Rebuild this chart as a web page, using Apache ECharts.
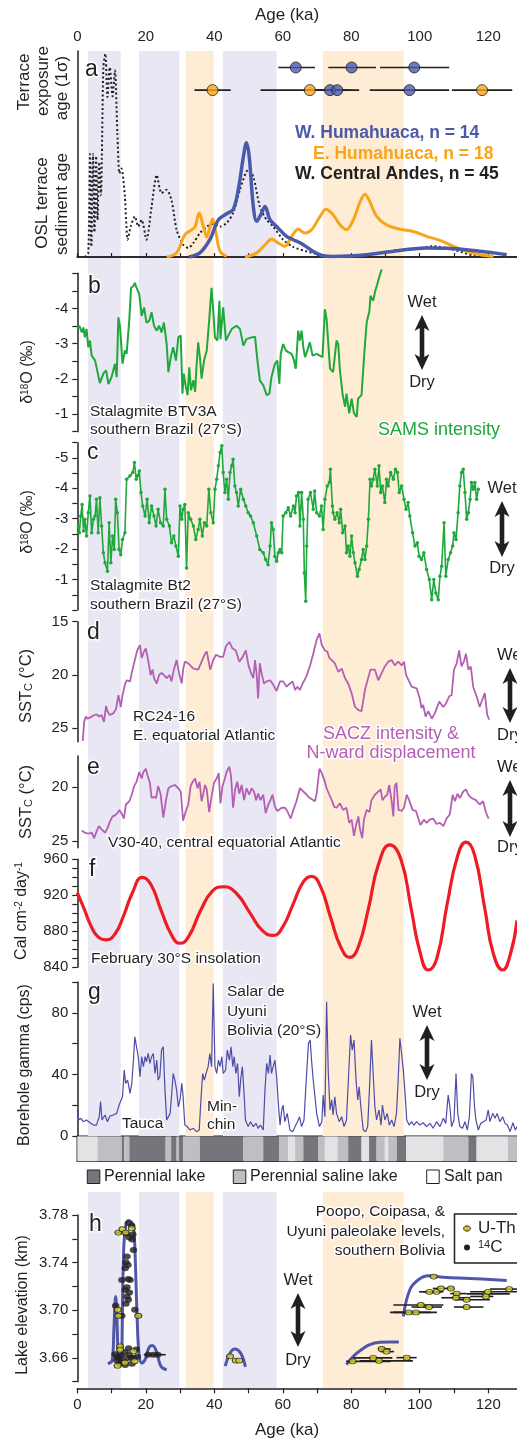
<!DOCTYPE html>
<html><head><meta charset="utf-8">
<script src="https://cdn.jsdelivr.net/npm/echarts@6/dist/echarts.min.js"></script>
<style>html,body{margin:0;padding:0;background:#fff}#c{width:517px;height:1439px}</style>
</head><body><div id="c"></div>
<script>
// ---------------- DATA ----------------
const ageLabels = [0, 20, 40, 60, 80, 100, 120];
const ageTicks = [0, 10, 20, 30, 40, 50, 60, 70, 80, 90, 100, 110, 120];
// shaded intervals [start ka, end ka, type 0=lavender, 1=orange]
const bands = [[3.1, 12.7, 0], [18.0, 29.8, 0], [31.6, 39.8, 1], [42.5, 58.2, 0], [71.7, 95.3, 1]];

// panel a: terrace exposure ages [age, lo, hi, row]
const expoBlue = [[63.8, 58.7, 69.4, 92], [80.1, 73.3, 87.2, 92], [98.4, 88.4, 108.6, 92], [73.8, 66, 80, 81], [75.9, 70, 82.3, 81], [97.0, 85.4, 108.6, 81]];
const expoOrange = [[39.5, 34.2, 44.8, 81], [67.9, 53.5, 78, 81], [118.2, 109.4, 127, 81]];
// OSL KDE curves (arbitrary density units)
const oslWHumahuaca = [[32.6,0],[35.8,2],[38.7,8.4],[41.2,18],[43.6,21],[45.5,23],[47,32.6],[48.5,48.7],[49.4,55.5],[50.2,48.7],[51.4,24.5],[52.4,17.3],[53.8,21.3],[54.8,24.5],[56.3,18],[58.2,14.8],[61.1,10],[63.1,8.4],[66,6],[68.9,2.7],[71.8,0.6],[74.7,0.3],[84.5,1.1],[94.2,3.2],[102,4.4],[107.8,4.2],[115.6,3.2],[121.5,2],[125.4,1.1]];
const oslEHumahuaca = [[26.1,0],[29,2],[31.4,10.8],[33.4,13.2],[34.4,14.8],[35.6,21.3],[36.8,14.8],[37.8,9.7],[38.5,13.2],[39.5,18.4],[40.5,11.6],[41.7,2.7],[43.6,0.3],null,[49,0],[52.4,2],[55.3,6.8],[56.7,8.7],[58.7,6.8],[60.6,5.2],[62.6,10],[64.5,13.5],[66.5,11.6],[68.4,13.2],[70.9,19.7],[72.6,23.2],[74.7,20.5],[76.7,15.6],[78.6,13.2],[80.6,18],[82.5,26.5],[84,30.5],[85.4,26.9],[87.4,19.7],[90.3,15.6],[94.2,13.5],[98.1,12.4],[102,10],[105.9,8.1],[109.8,5.2],[113.7,2.7],[117.6,1.1],[121.5,0.3]];
const oslWCentralAndes = [[2.2,0],[3.2,2],[3.7,50],[4.1,5],[4.6,50],[5.0,12],[5.5,49],[5.9,18],[6.4,46],[6.9,30],[7.6,92],[8.2,98.7],[8.8,77.7],[9.5,92],[10.3,78],[11,90.6],[11.7,60],[12.3,40.6],[12.9,43],[13.9,29.4],[14.7,8.4],[15.6,14.8],[16.8,19.7],[17.8,14.8],[18.8,18],[20.2,8.4],[21.7,24.5],[23.2,39.8],[24.6,31],[26.1,32.6],[27.5,27.7],[29,13.2],[30.9,6],[32.4,4.4],[33.9,6.8],[35.8,11.6],[37.8,14.8],[39.7,16.1],[41.7,14.8],[43.6,16.5],[45.5,21.3],[47.5,32.6],[49.9,42.3],[51.4,39],[53.3,24.5],[55.3,18],[57.2,14.8],[60.1,8.4],[63.1,4.8],[67,2.7],[70.9,1.1],[74.7,0.3],[84.5,1.1],[94.2,3.5],[100,4.4],[104,5.2],[107.8,4.4],[111.7,2.7],[115.6,0.6],[118.5,0]];

// panel b: stalagmite BTV3A d18O
const d18O_BTV3A = [[0,-3.42],[0.6,-3.51],[1.3,-3.32],[1.8,-3.46],[2.2,-3.18],[2.7,-3.42],[3.2,-2.9],[3.7,-3.09],[4.2,-2.66],[5.2,-2.52],[6.6,-1.88],[7.6,-2.15],[8.4,-2.24],[9.1,-1.85],[10,-2.05],[11,-2.43],[11.5,-2.05],[12,-3.75],[12.5,-3.46],[13.2,-2.43],[13.9,-2.81],[14.4,-2.71],[15.2,-3.7],[15.7,-4.59],[16.4,-4.64],[16.8,-4.73],[17.3,-4.59],[18.1,-4.4],[18.8,-3.79],[19.5,-4.03],[20.2,-3.6],[21,-3.65],[21.7,-3.89],[22.4,-3.51],[23.2,-3.37],[23.9,-3.51],[24.6,-3.32],[25.3,-3.6],[26.1,-2.99],[26.6,-2.19],[27.3,-2.62],[28,-2.9],[28.8,-2.52],[29.5,-3.18],[30.2,-3.23],[30.7,-1.58],[31.1,-2.15],[31.7,-1.77],[32.2,-1.54],[32.7,-2.33],[33.2,-1.68],[33.9,-1.96],[34.4,-1.63],[34.8,-2.33],[35.3,-3.04],[35.8,-2.62],[36.3,-2.01],[37,-2.52],[37.8,-2.81],[38.5,-3.65],[39.2,-4.59],[39.7,-3.93],[40.2,-3.18],[40.9,-3.09],[41.5,-4.22],[41.8,-3.13],[42.6,-4.03],[43.4,-3.09],[44.1,-3.23],[45.1,-3.42],[46.5,-3.51],[47.5,-3.42],[48.5,-2.95],[49.4,-3.13],[50.9,-3.18],[51.9,-3.2],[52.6,-2.52],[53.3,-1.96],[54.3,-1.82],[55.3,-1.54],[56.1,-1.58],[56.7,-2.05],[57.7,-2.43],[58.4,-2.52],[59,-1.86],[59.4,-2.71],[60.1,-2.99],[60.9,-2.81],[61.6,-2.76],[62.6,-2.71],[63.3,-2.52],[63.8,-2.29],[64.5,-3.37],[65,-3.09],[65.5,-3.37],[66,-2.9],[66.5,-2.62],[67.2,-2.81],[67.9,-3.04],[68.7,-2.66],[69.9,-2.71],[71.6,-2.62],[72.3,-3.98],[72.8,-3.7],[73.3,-2.99],[73.8,-2.29],[74.7,-2.19],[75.7,-3.09],[76.2,-2.99],[76.7,-2.24],[77.5,-1.54],[78.2,-1.21],[78.6,-1.58],[79.4,-1.02],[80.1,-1.44],[80.8,-1.02],[81.6,-0.92],[82,-1.44],[83,-1.54],[83.8,-2.71],[84.5,-3.6],[85.3,-3.93],[85.6,-4.36],[86.4,-4.22],[87,-4.5],[87.6,-4.69],[88.4,-4.97],[88.9,-5.11]];

// panel c: stalagmite Bt2 d18O
const d18O_Bt2 = [[0.3,-2.76],[0.6,-2.54],[1,-3.09],[1.4,-3.47],[1.8,-2.6],[2.2,-2.98],[2.7,-2.43],[3.2,-3.2],[3.7,-3.75],[4.2,-2.54],[4.7,-2.98],[5.2,-3.09],[5.6,-3.64],[6.1,-2.54],[6.6,-3.69],[7.1,-2.76],[7.6,-1.88],[8.1,-1.55],[8.8,-1.27],[9.3,-2.87],[9.8,-1.55],[10.3,-2.43],[10.8,-1.99],[11.2,-3.64],[11.7,-3.2],[12.2,-1.99],[12.7,-1.82],[13.2,-2.32],[13.9,-2.54],[14.4,-4.3],[15.4,-4.41],[16.2,-4.52],[16.7,-4.85],[17.2,-4.3],[17.6,-4.41],[18.1,-4.57],[18.6,-3.86],[19.1,-3.42],[19.8,-3.09],[20.4,-3.64],[21,-2.87],[21.7,-3.42],[22.4,-3.09],[23,-2.76],[23.6,-3.31],[24.3,-2.87],[25.1,-2.76],[25.6,-3.97],[26.1,-2.98],[26.9,-2.76],[27.5,-2.21],[28.2,-2.43],[28.8,-2.1],[29.5,-1.77],[30,-3.42],[30.5,-2.98],[30.9,-3.31],[31.4,-3.47],[31.9,-1.38],[32.4,-3.2],[33.1,-2.98],[33.9,-2.76],[34.6,-2.32],[35.3,-2.65],[35.8,-2.98],[36.5,-2.43],[37.1,-2.87],[37.8,-2.76],[38.4,-3.97],[39,-3.2],[39.7,-2.87],[40.2,-3.97],[40.7,-4.3],[41.2,-4.74],[41.7,-5.18],[42.2,-5.4],[42.6,-4.52],[43.1,-3.86],[43.6,-4.3],[44.1,-3.64],[44.6,-4.52],[45.1,-4.74],[45.5,-4.96],[46,-4.08],[46.5,-3.86],[47,-3.42],[47.7,-3.97],[48.5,-3.64],[49.2,-3.42],[49.9,-3.2],[50.6,-3.09],[51.4,-2.87],[52.4,-2.43],[53.3,-1.99],[54.3,-1.88],[55,-1.66],[55.7,-1.49],[56.3,-2.1],[56.7,-2.87],[57.2,-2.65],[57.7,-1.77],[58.2,-1.6],[58.7,-1.88],[59.2,-1.99],[59.7,-1.88],[60.1,-3.09],[60.9,-3.2],[61.6,-3.36],[62.3,-3.09],[63.1,-3.42],[63.6,-3.2],[64,-3.75],[64.6,-3.86],[65,-2.76],[65.5,-3.86],[66,-2.98],[66.3,-1.22],[66.7,-0.29],[67,-2.1],[67.4,-3.64],[68.1,-3.86],[68.9,-3.31],[69.3,-3.91],[69.9,-3.2],[70.7,-3.09],[71.3,-3.42],[71.8,-2.65],[72.3,-3.64],[73,-4.08],[73.6,-4.19],[73.9,-4.63],[74.5,-3.42],[74.7,-3.2],[75.2,-2.98],[75.9,-3.2],[76.5,-2.87],[76.9,-3.31],[77.5,-2.54],[78.2,-2.76],[78.6,-1.88],[79.1,-2.1],[79.6,-1.77],[80.1,-2.43],[80.6,-1.88],[81.1,-1.55],[81.8,-1.11],[82.3,-1.33],[83,-1.66],[83.5,-1.99],[84,-1.66],[84.5,-2.1],[85,-2.98],[85.5,-4.3],[85.9,-4.08],[86.4,-4.3],[86.9,-4.63],[87.6,-4.08],[88.1,-4.74],[88.6,-3.86],[89.1,-4.08],[89.8,-3.53],[90.3,-4.3],[90.8,-4.08],[91.5,-4.52],[92.3,-4.3],[92.9,-4.63],[93.5,-4.52],[94,-3.86],[94.7,-4.08],[95.4,-3.64],[96,-3.31],[96.6,-3.53],[97.1,-3.09],[97.9,-2.54],[98.6,-2.1],[99.3,-2.21],[99.8,-1.77],[100.5,-1.66],[101.2,-1.88],[102,-1.33],[102.8,-1.0],[103.5,-0.34],[104.1,-1.0],[104.7,-0.56],[105.4,-0.34],[105.9,-1.11],[106.4,-1.44],[107.1,-2.87],[107.6,-1.11],[108.3,-1.66],[109,-1.88],[109.6,-2.1],[110,-2.54],[110.6,-2.32],[111.2,-3.2],[111.7,-4.08],[112.2,-4.52],[112.7,-4.63],[113.2,-3.86],[113.7,-2.98],[114.2,-3.2],[114.7,-3.64],[115.1,-4.19],[115.6,-3.97],[116.1,-4.19],[116.6,-3.64],[117.1,-3.97]];

// panel d: RC24-16 SST
const sstRC2416 = [[1.6,26.2],[2,24.4],[2.5,23.9],[2.9,24.1],[3.7,24.0],[4.7,23.8],[5.6,23.7],[6.4,23.9],[7.1,23.75],[7.8,24.4],[8.4,22.9],[8.8,23.4],[9.5,23.75],[10.5,23.6],[11.3,23.2],[12,21.9],[12.7,23.0],[13.2,21.9],[13.9,20.9],[14.4,20.5],[15.4,20.6],[15.9,19.8],[16.8,18.6],[17.5,17.7],[18.3,17.2],[18.8,18.4],[19.5,17.8],[20,17.5],[20.7,18.6],[21.4,20.0],[22,19.5],[22.4,20.3],[23.2,20.8],[23.9,20.0],[24.6,19.8],[25.3,20.0],[26.1,20.3],[26.9,20.0],[27.5,20.6],[28.2,19.5],[29,18.6],[29.7,19.8],[30.5,20.8],[30.9,19.5],[31.4,18.75],[32.4,18.9],[33.9,19.4],[35.3,19.5],[36.3,18.75],[37.3,18.0],[37.8,17.8],[38.8,19.5],[39.7,18.6],[40.5,18.1],[41.7,18.3],[42.6,18.3],[43.4,17.3],[44.4,16.9],[45.3,17.5],[46.3,17.7],[47.3,18.75],[48.3,18.3],[49.2,17.7],[50,19.1],[50.6,19.7],[51.4,20.3],[51.9,18.6],[52.4,20.0],[52.8,22.2],[53.3,18.9],[53.8,19.8],[54.5,20.8],[55.3,20.6],[56.3,20.5],[57.2,20.9],[58.2,21.5],[59.2,20.6],[60.1,20.6],[61.1,21.1],[62.1,20.8],[62.9,20.6],[63.6,21.4],[64.3,21.1],[65,21.4],[65.8,20.8],[66.8,20.2],[67.9,19.2],[68.9,18.0],[69.9,16.7],[70.7,16.1],[71.4,17.2],[72.3,17.7],[73,17.8],[73.6,18.4],[74.3,18.6],[75.2,18.9],[76.2,19.7],[77.2,19.4],[78.2,20.3],[79.1,20.8],[80.1,21.7],[81.1,23.0],[82.1,23.3],[83,23.4],[84,21.4],[85,20.2],[85.6,19.5],[86.9,19.5],[87.9,20.5],[88.9,19.8],[89.8,19.2],[90.8,18.75],[91.8,18.6],[92.7,19.1],[93.7,18.75],[94.7,19.1],[95.4,18.75],[96,20.0],[96.9,20.6],[97.6,21.1],[99.1,21.25],[100,22.2],[100.5,23.1],[101,22.8],[101.7,23.9],[102.5,23.4],[103.5,24.1],[104.4,23.6],[105.7,22.5],[106.9,23.0],[107.6,22.7],[108.6,22.0],[109.3,21.9],[110,19.5],[110.8,18.9],[111.5,17.7],[112.2,19.2],[112.9,18.75],[113.5,18.0],[114.2,19.5],[114.9,19.2],[115.6,21.1],[116.6,22.0],[117.5,23.0],[118.3,22.3],[119,21.7],[119.7,23.75],[120.3,24.2]];

// panel e: V30-40 SST
const sstV3040 = [[1.3,24.0],[2.2,24.2],[3.2,24.3],[4.2,24.2],[4.9,24.7],[5.6,24.1],[6.3,23.6],[7.1,23.9],[8.1,24.2],[8.8,23.8],[9.5,23.2],[10.3,22.7],[11,22.6],[11.7,22.4],[12.3,22.1],[12.9,22.4],[13.6,22.9],[14.2,21.6],[15.2,21.3],[15.9,20.7],[16.6,19.9],[17.3,19.5],[18.1,18.6],[18.8,19.2],[19.3,18.6],[20,18.3],[20.5,18.9],[21.2,19.6],[21.7,21.0],[22.4,20.9],[23,21.0],[23.6,19.9],[24.3,20.6],[25.1,22.8],[25.9,21.2],[26.6,20.1],[27.5,19.9],[28.5,19.8],[29.5,20.1],[30.2,20.4],[30.9,23.1],[31.7,22.2],[32.4,21.6],[33.1,19.9],[33.7,19.5],[34.4,19.2],[35.1,20.1],[35.7,19.5],[36.3,21.3],[36.8,20.6],[37.3,19.8],[37.8,20.2],[38.5,22.3],[39.2,20.9],[39.9,19.6],[40.7,19.2],[41.3,18.7],[41.8,21.5],[42.4,19.9],[43.1,19.2],[43.6,18.6],[44.4,18.1],[44.9,19.0],[45.5,21.9],[46.1,20.2],[46.7,19.5],[47.3,20.6],[48,19.8],[48.7,21.2],[49.4,20.1],[50.2,20.7],[50.9,20.1],[51.6,20.4],[52.2,21.2],[52.8,20.6],[53.5,21.2],[54.3,20.7],[55,22.4],[55.8,21.6],[56.4,21.2],[57,20.7],[57.7,21.8],[58.4,22.2],[59.7,21.9],[60.6,21.9],[61.3,22.2],[62.3,22.9],[63.1,22.1],[64,21.3],[65,20.1],[66,20.4],[67,20.7],[67.9,21.0],[69.4,21.3],[69.9,20.6],[70.7,18.3],[71.4,18.7],[72.1,19.3],[72.8,20.1],[73.6,20.7],[74.3,21.2],[75,21.8],[75.7,21.9],[76.7,21.5],[77.6,22.1],[78.6,21.9],[79.4,23.3],[80.1,23.0],[80.8,24.5],[81.4,23.5],[82.1,22.7],[82.5,23.8],[83.2,24.7],[83.7,23.0],[84.5,22.1],[85.3,22.3],[85.9,21.2],[86.9,20.7],[87.9,20.4],[88.6,20.2],[89.1,21.2],[89.8,20.9],[90.5,20.7],[91.1,19.8],[91.8,21.3],[92.3,22.7],[92.7,19.9],[93.2,19.6],[93.8,22.1],[94.7,22.2],[95.4,21.9],[96.2,20.7],[96.9,21.2],[97.9,22.1],[98.9,22.2],[99.6,22.9],[100.2,23.5],[101.2,23.0],[102,23.3],[102.9,23.0],[103.9,22.9],[104.9,23.4],[105.9,23.3],[106.9,23.6],[107.8,22.9],[108.8,22.5],[109.6,20.7],[110.3,21.3],[111,20.6],[111.7,21.0],[112.7,20.4],[113.5,20.2],[114.2,20.7],[115.1,21.0],[116.4,21.2],[117.5,21.6],[118.5,21.3],[119.3,22.3],[120.1,22.9]];

// panel f: February 30S insolation
const insolFeb30S = [[0,923],[2,905],[4,886],[6,874],[8.4,870.5],[11,877],[13.5,897],[16,922],[19,940],[21.5,932],[24.5,903],[27.5,876],[30,866.7],[32.5,874],[36,903],[39.5,925],[42.8,929.5],[46.5,922],[50.5,900],[54,881],[57.2,875.4],[60,885],[63,910],[66,935],[68.4,941],[71,930],[74,895],[77,862],[79.6,851],[82,862],[85,905],[88,955],[91.3,976],[94.5,960],[97.5,905],[100,858],[102.5,837],[105,850],[108,910],[111,963],[113.5,979],[116,965],[119,905],[121.5,855],[124.2,837],[126.5,855],[128.4,892]];

// panel g: Salar de Uyuni borehole gamma
const gammaUyuni = [[0,16.9],[0.4,10.4],[1,11.5],[1.8,9.3],[2.7,10.4],[3.7,8.6],[4.7,7.1],[5.6,7.1],[6.4,12.5],[6.8,22.3],[7.2,10.4],[8.1,13.6],[8.8,9.3],[9.5,13.0],[10.5,13.6],[11.5,14.7],[12.2,20.1],[12.7,19.0],[13.2,25.5],[13.7,42.8],[14.1,34.2],[14.7,36.3],[15.4,27.7],[15.9,34.2],[16.4,49.3],[16.8,64.4],[17.3,57.9],[17.8,51.5],[18.3,38.5],[18.8,51.5],[19.3,45.0],[19.8,51.5],[20.2,48.2],[20.7,53.6],[21.2,47.1],[21.7,51.5],[22.2,53.6],[22.7,40.6],[23.2,49.3],[23.6,36.3],[24.1,38.5],[24.6,55.8],[25.1,57.9],[25.6,29.8],[26.1,10.4],[26.6,9.3],[27.1,14.7],[27.5,25.5],[28,40.6],[28.5,36.3],[29,29.8],[29.5,19.0],[30,23.4],[30.5,34.2],[30.9,25.5],[31.4,7.1],[32.1,6.1],[32.9,3.9],[33.9,5.0],[34.8,2.8],[35.6,3.9],[36.1,23.4],[36.6,40.6],[37.1,36.3],[37.6,40.6],[38.2,45.0],[38.7,53.6],[39.2,45.0],[39.7,99],[40.2,45.0],[40.7,40.6],[41.2,49.3],[41.7,45.0],[42.2,51.5],[42.6,40.6],[43.3,42.8],[43.8,55.8],[44.4,49.3],[44.9,57.9],[45.4,45.0],[45.8,51.5],[46.3,40.6],[46.8,47.1],[47.3,25.5],[47.7,36.3],[48.2,45.0],[48.7,27.7],[49.1,10.4],[49.9,6.1],[50.6,9.3],[51.4,6.1],[52.2,8.2],[52.8,5.0],[53.5,7.1],[54.3,3.9],[54.8,29.8],[55.3,47.1],[55.8,40.6],[56.3,52.5],[56.7,40.6],[57.2,45.0],[57.7,49.3],[58.2,38.5],[58.7,21.2],[59.2,7.1],[59.7,16.9],[60.1,20.1],[60.6,9.3],[61.3,14.7],[62.1,3.9],[62.9,2.8],[63.6,6.1],[64.3,9.3],[64.9,12.5],[65.5,6.1],[66.2,10.4],[66.8,34.2],[67.5,60.1],[68,62.3],[68.4,49.3],[68.9,36.3],[69.4,25.5],[69.9,14.7],[70.7,6.1],[71.4,9.3],[71.8,26.6],[72.3,12.5],[72.8,87.1],[73.3,40.6],[73.8,16.9],[74.3,23.4],[74.7,13.6],[75.2,25.5],[75.7,14.7],[76.5,9.3],[77.2,12.5],[77.9,6.1],[78.6,10.4],[79.3,42.8],[79.8,65.5],[80.3,55.8],[80.8,62.3],[81.4,36.3],[81.9,23.4],[82.3,32.0],[82.8,19.0],[83.5,3.9],[84.2,2.8],[84.8,6.1],[85.3,29.8],[85.9,62.3],[86.4,40.6],[86.9,19.0],[87.4,10.4],[88.1,16.9],[88.7,7.1],[89.1,20.1],[89.8,10.4],[90.5,14.7],[91.1,7.1],[91.8,10.4],[92.5,6.1],[93.2,14.7],[93.7,36.3],[94.2,63.4],[94.7,53.6],[95.2,42.8],[95.7,27.7],[96.2,10.4],[96.9,7.1],[97.6,9.3],[98.3,7.1],[99.1,9.3],[100,7.1],[101,8.6],[102,6.1],[103,8.2],[103.9,5.0],[104.9,9.3],[105.9,6.1],[106.9,11.5],[107.6,8.2],[108.3,26.6],[108.8,19.0],[109.3,6.1],[110,10.4],[110.6,40.6],[111.1,14.7],[111.7,6.1],[112.5,5.0],[113.2,9.3],[113.9,3.9],[114.5,12.5],[115.1,40.6],[115.5,38.5],[116,19.0],[116.4,10.4],[117.1,3.9],[117.8,8.2],[118.6,9.3],[119.4,10.4],[120,16.9],[120.5,9.3],[121.3,14.7],[122,11.5],[122.6,14.7],[123.4,9.3],[124.2,12.5],[124.9,8.2],[125.6,7.1],[126.4,2.8],[127.2,8.6],[127.9,3.9],[128.4,6.1]];

// lithology strip [start, end, type 0=perennial lake,1=perennial saline lake,2=salt pan]
const lithology = [[0,5.9,2],[5.9,13,1],[13,13.7,0],[13.7,15.2,1],[15.2,25.8,0],[25.8,27.4,1],[27.4,29,0],[29,29.7,1],[29.7,30.9,0],[30.9,35.8,1],[35.8,48.5,0],[48.5,54.3,1],[54.3,58.9,0],[58.9,61.6,1],[61.6,63.6,2],[63.6,66,1],[66,70.4,0],[70.4,72.3,1],[72.3,76,2],[76,79.1,1],[79.1,83,0],[83,85.2,2],[85.2,87.4,0],[87.4,89.8,1],[89.8,90.8,2],[90.8,93.3,1],[93.3,96,0],[96,106.9,2],[106.9,114.2,1],[114.2,116.6,0],[116.6,125.7,2],[125.7,128.4,1]];

// panel h: paleolake level curves (km)
const lakeCurve1 = [[8.9,3.6552],[10.2,3.658],[10.7,3.685],[11.2,3.7116],[11.6,3.69],[12.0,3.6614],[12.7,3.6558],[13.4,3.7355],[13.9,3.766],[14.9,3.7753],[16.1,3.773],[16.6,3.7645],[17.0,3.7367],[17.4,3.7004],[18.0,3.664],[18.8,3.6558],[19.8,3.6586],[20.9,3.6684],[21.9,3.6703],[23.1,3.6656],[24.4,3.653],[26.1,3.650]];
const lakeCurve2 = [[43.2,3.653],[44.6,3.664],[46.0,3.6675],[47.7,3.664],[49.1,3.6525]];
const lakeCurve3 = [[78.6,3.6544],[80.6,3.6614],[83,3.667],[85.4,3.6712],[88.4,3.6731],[91.3,3.6734],[93.9,3.6734]];
const lakeCurve4 = [[95.2,3.6948],[97.1,3.7172],[99.6,3.7256],[102.5,3.7289],[106.9,3.7278],[114.7,3.7267],[125.4,3.725]];
// U-Th ages [age, elev, lo, hi]
const lakeUTh = [[12.0,3.7652,11.0,13.6],[13.2,3.768,null,null],[14.1,3.7652,null,null],[15.9,3.7688,null,null],[11.8,3.7004,null,null],[12.0,3.6954,null,null],[17.8,3.6954,17.0,18.8],[12.5,3.6697,null,null],[12.5,3.6669,null,null],[11.8,3.6535,null,null],[16.4,3.6655,null,null],[16.7,3.6571,null,null],[13.9,3.656,null,null],[44.6,3.6613,null,null],[46.3,3.6577,null,null],[47.3,3.6577,null,null],[80.4,3.6571,78.5,91.5],[86.4,3.66,80.5,92],[88.1,3.6575,82.5,98],[88.9,3.6675,87.8,91.5],[90.3,3.6653,88.5,92.5],[96.2,3.6602,93.2,99.1],[104.1,3.7283,null,null],[102.8,3.7155,99.8,106.3],[104.9,3.7155,101,106.9],[106.2,3.7183,103.8,110.0],[109.1,3.7183,107.9,110.0],[110.8,3.714,108.9,113.7],[110.6,3.7105,106.3,114.7],[113.7,3.7088,110.3,120.5],[119.5,3.7138,113.7,126.3],[119.9,3.7155,114.7,128.4],[119.3,3.7116,114.7,121.5],[126.1,3.7178,120.5,128.4],[113.7,3.7027,110.0,118.6],[100.3,3.7044,92.3,106.9],[102.7,3.7027,97.6,106.5],[96.8,3.6982,91.3,103.2],[98.9,3.6982,92.2,105.0]];
// 14C ages [age, elev]
const lake14C = [[14.9,3.773],[15.9,3.771],[14.3,3.7645],[16.2,3.7636],[15.2,3.7611],[16.0,3.7594],[16.4,3.7507],[14.5,3.7451],[14.2,3.7403],[14.8,3.738],[14.0,3.7353],[14.9,3.7263],[15.4,3.7255],[13.0,3.7255],[14.5,3.7193],[14.0,3.7171],[15.2,3.7149],[14.5,3.7116],[14.9,3.7088],[14.2,3.7054],[16.8,3.7004],[11.2,3.7038],[13.0,3.6954],[11.0,3.663],[11.5,3.658],[12.0,3.66],[12.8,3.662],[13.5,3.657],[14.5,3.66],[15.2,3.663],[15.8,3.66],[16.5,3.66],[17.2,3.667],[17.5,3.661],[13.8,3.665],[15.0,3.668],[12.3,3.655],[14.0,3.654],[16.0,3.655],[11.7,3.661],[20.7,3.6627],[22.2,3.6627],[23.5,3.6627]];
const lake14CErr = [[19.4,25.8,3.6627]];

// ---------------- CHART ----------------
const FF = '"Liberation Sans", Arial, sans-serif';
const INK = '#231f20';
const XMAX = 128.4, GL = 77.3;
const BAND_COL = ['#e8e7f3', '#feecd4'];
const LITH_COL = ['#77747b', '#bebfc2', '#e3e3e5'];
const BLUE = '#4a5aab', ORANGE = '#f9a51b', GREEN = '#1fa83b', MAG = '#b45fb3', RED = '#ee1c24', GAM = '#4d4ca8', LAKE = '#5156a8';

const boxes = [
  [51, 1136],      // 0 bands a-g
  [51, 257],       // 1 a
  [273.3, 431.7],  // 2 b
  [442.7, 610],    // 3 c
  [621.7, 741.7],  // 4 d
  [756, 847.7],    // 5 e
  [859.3, 967.3],  // 6 f
  [982, 1136],     // 7 g
  [1136.3, 1161.3],// 8 strip
  [1192, 1388.3],  // 9 bands h
  [1215, 1381.7]   // 10 h
];
const grid = boxes.map((b, i) => ({left: GL, right: 0, top: b[0], height: b[1] - b[0],
  show: i === 8, borderColor: INK, borderWidth: 1.5, backgroundColor: 'transparent'}));

const axLine = {show: true, lineStyle: {color: INK, width: 1.5}};
const hiddenX = i => ({type: 'value', gridIndex: i, min: 0, max: XMAX, show: false});
const xAxis = boxes.map((b, i) => hiddenX(i));
xAxis[1] = {type: 'value', gridIndex: 1, min: 0, max: XMAX, position: 'top', axisLine: axLine,
  axisTick: {show: true, length: 4, lineStyle: {color: INK, width: 1.2}, customValues: ageTicks},
  axisLabel: {show: true, customValues: ageLabels, color: INK, fontSize: 15, fontFamily: FF, margin: 7},
  splitLine: {show: false}};
xAxis.push({type: 'value', gridIndex: 1, min: 0, max: XMAX, position: 'bottom', axisLine: axLine,
  axisTick: {show: false}, axisLabel: {show: false}, splitLine: {show: false}});
xAxis[10] = {type: 'value', gridIndex: 10, min: 0, max: XMAX, position: 'bottom', offset: 6.6, axisLine: axLine,
  axisTick: {show: true, length: 5, lineStyle: {color: INK, width: 1.2}, customValues: ageTicks},
  axisLabel: {show: true, customValues: ageLabels, color: INK, fontSize: 15, fontFamily: FF, margin: 9},
  splitLine: {show: false}};

function yAx(i, min, max, labels, ticks, opt) {
  return Object.assign({type: 'value', gridIndex: i, min: min, max: max, axisLine: axLine,
    axisTick: {show: !!ticks, length: 5, lineStyle: {color: INK, width: 1.2}, customValues: ticks || []},
    axisLabel: {show: !!labels, customValues: labels || [], color: INK, fontSize: 15, fontFamily: FF, margin: 9},
    splitLine: {show: false}}, opt || {});
}
const half = (a, b) => { const r = []; for (let v = a; v <= b + 1e-9; v += 0.5) r.push(+v.toFixed(2)); return r; };
const steps = (a, b, s, d) => { const r = []; for (let k = 0; a + k * s <= b + 1e-9; k++) r.push(+(a + k * s).toFixed(d)); return r; };
const yAxis = [
  {type: 'value', gridIndex: 0, min: 0, max: 1, show: false},
  {type: 'value', gridIndex: 1, min: 0, max: 100, axisLine: axLine, axisTick: {show: false}, axisLabel: {show: false}, splitLine: {show: false}},
  yAx(2, -5, -0.5, [-4, -3, -2, -1], half(-5, -0.5), {inverse: true}),
  yAx(3, -5.5, 0, [-5, -4, -3, -2, -1], half(-5.5, 0), {inverse: true}),
  yAx(4, 15, 26.26, [15, 20, 25], [15, 20, 25], {inverse: true}),
  yAx(5, 17.12, 25.59, [20, 25], [20, 25], {inverse: true}),
  yAx(6, 840, 960, [840, 880, 920, 960], steps(840, 960, 10, 0)),
  yAx(7, 0, 100, [0, 40, 80], steps(0, 100, 20, 0)),
  {type: 'value', gridIndex: 8, min: 0, max: 1, show: false},
  {type: 'value', gridIndex: 9, min: 0, max: 1, show: false},
  yAx(10, 3.64, 3.78, [3.66, 3.70, 3.74, 3.78], steps(3.64, 3.78, 0.02, 2))
];
yAxis[10].axisLabel.formatter = v => v.toFixed(2);

function rectRender(colors) {
  return function (params, api) {
    const p0 = api.coord([api.value(0), 1]), p1 = api.coord([api.value(1), 0]);
    return {type: 'rect', shape: {x: p0[0], y: p0[1], width: p1[0] - p0[0], height: p1[1] - p0[1]},
      style: {fill: colors[api.value(2)]}};
  };
}
function errRender(params, api) {
  const y = api.value(2);
  const p0 = api.coord([api.value(0), y]), p1 = api.coord([api.value(1), y]);
  return {type: 'line', shape: {x1: p0[0], y1: p0[1], x2: p1[0], y2: p1[1]}, style: {stroke: INK, lineWidth: 1.6}};
}
function line(i, data, color, width, extra) {
  return Object.assign({type: 'line', xAxisIndex: i, yAxisIndex: i, data: data, showSymbol: false, symbol: 'none',
    lineStyle: {color: color, width: width}, itemStyle: {color: color}, z: 3, animation: false}, extra || {});
}
function splitNull(arr) { const out = [[]]; arr.forEach(p => { if (p === null) out.push([]); else out[out.length - 1].push(p); }); return out; }

const series = [];
series.push({type: 'custom', xAxisIndex: 0, yAxisIndex: 0, data: bands, encode: {x: [0, 1]}, renderItem: rectRender(BAND_COL), z: 0, silent: true, animation: false});
series.push({type: 'custom', xAxisIndex: 9, yAxisIndex: 9, data: bands, encode: {x: [0, 1]}, renderItem: rectRender(BAND_COL), z: 0, silent: true, animation: false});
series.push({type: 'custom', xAxisIndex: 8, yAxisIndex: 8, data: lithology, encode: {x: [0, 1]}, renderItem: rectRender(LITH_COL), z: 1, silent: true, animation: false});
// panel a
series.push(line(1, oslWCentralAndes, INK, 2, {lineStyle: {color: INK, width: 2, type: [2, 2.5]}, smooth: 0.25}));
splitNull(oslEHumahuaca).forEach(seg => series.push(line(1, seg, ORANGE, 3, {smooth: 0.35})));
series.push(line(1, oslWHumahuaca, BLUE, 3.5, {smooth: 0.35}));
series.push({type: 'custom', xAxisIndex: 1, yAxisIndex: 1, data: expoBlue.concat(expoOrange).map(d => [d[1], d[2], d[3]]), encode: {x: [0, 1], y: 2}, renderItem: errRender, z: 4, animation: false});
series.push({type: 'scatter', xAxisIndex: 1, yAxisIndex: 1, data: expoBlue.map(d => [d[0], d[3]]), symbolSize: 11, itemStyle: {color: BLUE, borderColor: INK, borderWidth: 1}, z: 5, animation: false});
series.push({type: 'scatter', xAxisIndex: 1, yAxisIndex: 1, data: expoOrange.map(d => [d[0], d[3]]), symbolSize: 11, itemStyle: {color: ORANGE, borderColor: INK, borderWidth: 1}, z: 5, animation: false});
// b, c
series.push(line(2, d18O_BTV3A, GREEN, 2, {clip: false}));
series.push(line(3, d18O_Bt2, GREEN, 1.6, {showSymbol: true, symbol: 'circle', symbolSize: 3.5}));
// d, e
series.push(line(4, sstRC2416, MAG, 1.8));
series.push(line(5, sstV3040, MAG, 1.8));
// f
series.push(line(6, insolFeb30S, RED, 3.2, {smooth: 0.5, clip: false}));
// g
series.push(line(7, gammaUyuni, GAM, 1.2));
// h
[lakeCurve1, lakeCurve2, lakeCurve3, lakeCurve4].forEach(c => series.push(line(10, c, LAKE, 3, {smooth: 0.4})));
series.push({type: 'custom', xAxisIndex: 10, yAxisIndex: 10, data: lakeUTh.filter(d => d[2] !== null).map(d => [d[2], d[3], d[1]]).concat(lake14CErr), encode: {x: [0, 1], y: 2}, renderItem: errRender, z: 4, animation: false});
series.push({type: 'scatter', xAxisIndex: 10, yAxisIndex: 10, data: lake14C, symbolSize: [7.5, 6], itemStyle: {color: INK}, z: 5, animation: false});
series.push({type: 'scatter', xAxisIndex: 10, yAxisIndex: 10, data: lakeUTh.map(d => [d[0], d[1]]), symbolSize: [7, 5], itemStyle: {color: '#cfcf1c', borderColor: INK, borderWidth: 1}, z: 6, animation: false});

// ---------------- ANNOTATIONS ----------------
const G = [];
function txt(x, y, text, o) {
  o = o || {};
  const el = {type: 'text', x: x, y: y, z: 100, rotation: o.rot || 0,
    style: {text: text, fill: o.color || INK, font: (o.weight || 'normal') + ' ' + (o.size || 15.5) + 'px ' + FF,
      textAlign: o.align || 'left', textVerticalAlign: 'middle'}};
  if (o.halo) { el.style.stroke = '#fff'; el.style.lineWidth = 3; }
  if (o.rich) el.style.rich = o.rich;
  G.push(el);
}
function arrow(cx, y1, y2) {
  const hw = 7.5, hh = 16, sw = 2.3;
  G.push({type: 'polygon', z: 100, shape: {points: [[cx, y1], [cx + hw, y1 + hh], [cx + sw, y1 + hh - 3], [cx + sw, y2 - hh + 3], [cx + hw, y2 - hh], [cx, y2], [cx - hw, y2 - hh], [cx - sw, y2 - hh + 3], [cx - sw, y1 + hh - 3], [cx - hw, y1 + hh]]}, style: {fill: INK}});
}
function wetDry(cx, yw, y1, y2, yd, align) {
  const tx = align === 'left' ? cx - 13 : cx;
  txt(tx, yw, 'Wet', {size: 16.5, align: align || 'center'});
  txt(tx, yd, 'Dry', {size: 16.5, align: align || 'center'});
  arrow(cx, y1, y2);
}
const R = Math.PI / 2;
txt(287, 15, 'Age (ka)', {size: 17, align: 'center'});
txt(287, 1430, 'Age (ka)', {size: 17, align: 'center'});
txt(24, 82, 'Terrace', {size: 17, align: 'center', rot: R});
txt(43, 81, 'exposure', {size: 17, align: 'center', rot: R});
txt(62, 88, 'age (1σ)', {size: 17, align: 'center', rot: R});
txt(42, 203, 'OSL terrace', {size: 17, align: 'center', rot: R});
txt(62, 204, 'sediment age', {size: 17, align: 'center', rot: R});
const supRich = {s: {fontSize: 10, fontFamily: FF, fill: INK, verticalAlign: 'top', padding: [0, 0, 6, 0]}, n: {fontSize: 16, fontFamily: FF, fill: INK}};
txt(28, 372, '{n|δ}{s|18}{n|O (‰)}', {size: 16, align: 'center', rot: R, rich: supRich});
txt(28, 522, '{n|δ}{s|18}{n|O (‰)}', {size: 16, align: 'center', rot: R, rich: supRich});
const subRich = {s: {fontSize: 11, fontFamily: FF, fill: INK, verticalAlign: 'bottom', padding: [6, 0, 0, 0]}, n: {fontSize: 16.5, fontFamily: FF, fill: INK}};
txt(26, 686, '{n|SST}{s|C}{n| (°C)}', {size: 16.5, align: 'center', rot: R, rich: subRich});
txt(26, 802, '{n|SST}{s|C}{n| (°C)}', {size: 16.5, align: 'center', rot: R, rich: subRich});
txt(22, 911, '{n|Cal cm}{s|-2}{n| day}{s|-1}', {size: 16, align: 'center', rot: R, rich: supRich});
txt(25, 1065, 'Borehole gamma (cps)', {size: 16, align: 'center', rot: R});
txt(23, 1305, 'Lake elevation (km)', {size: 16, align: 'center', rot: R});
[['a', 85, 70], ['b', 88, 287], ['c', 87, 453], ['d', 87, 633], ['e', 87, 768], ['f', 89, 870], ['g', 88, 993], ['h', 89, 1225]]
  .forEach(p => txt(p[1], p[2], p[0], {size: 23, halo: true}));
txt(295, 133, 'W. Humahuaca, n = 14', {size: 17.5, weight: 'bold', color: BLUE});
txt(313, 154, 'E. Humahuaca, n = 18', {size: 17.5, weight: 'bold', color: ORANGE});
txt(295, 174, 'W. Central Andes, n = 45', {size: 17.5, weight: 'bold', color: INK});
txt(90, 412, 'Stalagmite BTV3A', {halo: true});
txt(90, 429.5, 'southern Brazil (27°S)', {halo: true});
txt(378, 430, 'SAMS intensity', {size: 18, color: GREEN, halo: true});
wetDry(422, 302, 315, 370, 382);
txt(90, 586, 'Stalagmite Bt2', {halo: true});
txt(90, 604.5, 'southern Brazil (27°S)', {halo: true});
wetDry(502, 488, 501, 557, 568);
txt(133, 717, 'RC24-16', {halo: true});
txt(133, 736, 'E. equatorial Atlantic', {halo: true});
txt(391, 734, 'SACZ intensity &', {size: 18, color: MAG, align: 'center', halo: true});
txt(391, 753, 'N-ward displacement', {size: 18, color: MAG, align: 'center', halo: true});
wetDry(510, 655, 668, 723, 735, 'left');
txt(108, 842.5, 'V30-40, central equatorial Atlantic', {halo: true});
wetDry(510, 767, 780, 837, 847, 'left');
txt(91, 959, 'February 30°S insolation', {halo: true});
txt(227, 992, 'Salar de', {halo: true});
txt(227, 1011.5, 'Uyuni', {halo: true});
txt(227, 1030.5, 'Bolivia (20°S)', {halo: true});
txt(122, 1124, 'Tauca', {halo: true});
txt(207, 1107, 'Min-', {halo: true});
txt(207, 1125, 'chin', {halo: true});
wetDry(427, 1012, 1025, 1080, 1092);
[[87.3, LITH_COL[0], 'Perennial lake', 104], [233.3, LITH_COL[1], 'Perennial saline lake', 250], [426.7, '#fff', 'Salt pan', 444]].forEach(l => {
  G.push({type: 'rect', z: 100, shape: {x: l[0], y: 1170, width: 12.5, height: 13.5}, style: {fill: l[1], stroke: INK, lineWidth: 1}});
  txt(l[3], 1177, l[2], {size: 16});
});
txt(445, 1212, 'Poopo, Coipasa, &', {align: 'right', halo: true});
txt(445, 1232, 'Uyuni paleolake levels,', {align: 'right', halo: true});
txt(445, 1251, 'southern Bolivia', {align: 'right', halo: true});
G.push({type: 'rect', z: 100, shape: {x: 454.5, y: 1214, width: 80, height: 49}, style: {fill: '#fff', stroke: INK, lineWidth: 1.5}});
G.push({type: 'ellipse', z: 101, shape: {cx: 467, cy: 1228.5, rx: 3.4, ry: 2.6}, style: {fill: '#cfcf1c', stroke: INK, lineWidth: 1}});
G.push({type: 'circle', z: 101, shape: {cx: 467, cy: 1247.5, r: 3}, style: {fill: INK}});
txt(478, 1228.5, 'U-Th', {size: 17});
txt(478, 1247.5, '{s|14}{n|C}', {size: 17, rich: {s: {fontSize: 11, fontFamily: FF, fill: INK, verticalAlign: 'top', padding: [0, 0, 6, 0]}, n: {fontSize: 17, fontFamily: FF, fill: INK}}});
wetDry(298, 1280, 1293, 1347, 1360);

const chart = echarts.init(document.getElementById('c'), null, {renderer: 'canvas'});
chart.setOption({animation: false, backgroundColor: '#fff', grid: grid, xAxis: xAxis, yAxis: yAxis, series: series, graphic: {elements: G}});
</script></body></html>
